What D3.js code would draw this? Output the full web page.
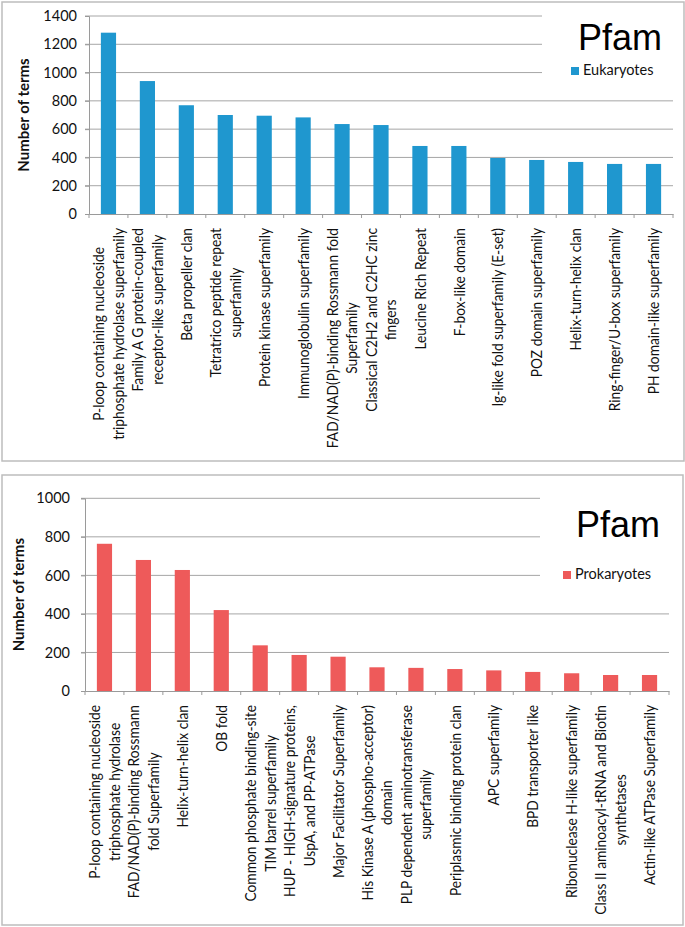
<!DOCTYPE html>
<html>
<head>
<meta charset="utf-8">
<script src="https://cdn.jsdelivr.net/npm/d3@7"></script>
<style>
  html, body { margin: 0; padding: 0; background: #fff; }
  svg { display: block; }
</style>
</head>
<body>
<svg id="chart" width="685" height="927"></svg>
<script>
// ---------- DATA ----------
const eukCategories = [
  "P-loop containing nucleoside\ntriphosphate hydrolase superfamily",
  "Family A G protein-coupled\nreceptor-like superfamily",
  "Beta propeller clan",
  "Tetratrico peptide repeat\nsuperfamily",
  "Protein kinase superfamily",
  "Immunoglobulin superfamily",
  "FAD/NAD(P)-binding Rossmann fold\nSuperfamily",
  "Classical C2H2 and C2HC zinc\nfingers",
  "Leucine Rich Repeat",
  "F-box-like domain",
  "Ig-like fold superfamily (E-set)",
  "POZ domain superfamily",
  "Helix-turn-helix clan",
  "Ring-finger/U-box superfamily",
  "PH domain-like superfamily"
];
const eukValues = [1282, 940, 769, 700, 695, 683, 636, 629, 481, 481, 396, 382, 368, 354, 354];
const eukTicks = [0, 200, 400, 600, 800, 1000, 1200, 1400];

const proCategories = [
  "P-loop containing nucleoside\ntriphosphate hydrolase",
  "FAD/NAD(P)-binding Rossmann\nfold Superfamily",
  "Helix-turn-helix clan",
  "OB fold",
  "Common phosphate binding-site\nTIM barrel superfamily",
  "HUP - HIGH-signature proteins,\nUspA, and PP-ATPase",
  "Major Facilitator Superfamily",
  "His Kinase A (phospho-acceptor)\ndomain",
  "PLP dependent aminotransferase\nsuperfamily",
  "Periplasmic binding protein clan",
  "APC superfamily",
  "BPD transporter like",
  "Ribonuclease H-like superfamily",
  "Class II aminoacyl-tRNA and Biotin\nsynthetases",
  "Actin-like ATPase Superfamily"
];
const proValues = [764, 680, 628, 420, 237, 187, 178, 123, 120, 114, 107, 99, 92, 83, 83];
const proTicks = [0, 200, 400, 600, 800, 1000];

const titleText = "Pfam";
const yAxisTitle = "Number of terms";
const seriesNames = ["Eukaryotes", "Prokaryotes"];

// ---------- DRAW ----------
const svg = d3.select("#chart");
const FONT = "Lato, 'Open Sans', sans-serif";

function panel(cfg) {
  const g = svg.append("g");
  g.append("rect")
    .attr("x", cfg.box[0]).attr("y", cfg.box[1])
    .attr("width", cfg.box[2] - cfg.box[0]).attr("height", cfg.box[3] - cfg.box[1])
    .attr("fill", "#fff").attr("stroke", "#bdbdbd").attr("stroke-width", 1.5);

  const x = d3.scaleBand().domain(cfg.cats.map((d, i) => i))
    .range([cfg.x0, cfg.x1]).paddingInner(0.61).paddingOuter(0.305);
  const xb = d3.scaleBand().domain(cfg.cats.map((d, i) => i)).range([cfg.x0, cfg.x1]);
  const y = d3.scaleLinear().domain([0, cfg.ymax]).range([cfg.yb, cfg.yt]);

  g.append("g").selectAll("line").data(cfg.ticks.filter(t => t > 0)).join("line")
    .attr("x1", cfg.x0 - 4).attr("x2", cfg.x1)
    .attr("y1", d => y(d)).attr("y2", d => y(d))
    .attr("stroke", "#a6a6a6").attr("stroke-width", 1);

  const ya = g.append("g").attr("transform", `translate(${cfg.x0},0)`)
    .call(d3.axisLeft(y).tickValues(cfg.ticks).tickFormat(d3.format("d")).tickSize(4).tickPadding(cfg.tickPad));
  ya.select(".domain").attr("stroke", "#9a9a9a");
  ya.selectAll(".tick line").attr("stroke", "#9a9a9a");
  ya.selectAll(".tick text").attr("font-family", FONT).attr("font-size", 14.5).attr("fill", "#111");

  g.append("g").selectAll("rect").data(cfg.vals).join("rect")
    .attr("x", (d, i) => x(i)).attr("width", x.bandwidth())
    .attr("y", d => y(d)).attr("height", d => y(0) - y(d))
    .attr("fill", cfg.color);

  const xa = g.append("g").attr("transform", `translate(0,${cfg.yb})`)
    .call(d3.axisBottom(xb).tickSize(0).tickFormat(""));
  xa.select(".domain").attr("stroke", "#9a9a9a");
  xa.selectAll(".tick").remove();
  xa.append("g").selectAll("line").data(d3.range(cfg.cats.length + 1)).join("line")
    .attr("x1", i => cfg.x0 + i * xb.step()).attr("x2", i => cfg.x0 + i * xb.step())
    .attr("y1", 0).attr("y2", 4).attr("stroke", "#9a9a9a");

  cfg.cats.forEach((lab, i) => {
    const lines = lab.split("\n");
    const cx = xb(i) + xb.bandwidth() / 2;
    const lg = g.append("g")
      .attr("transform", `translate(${cx},${cfg.yb + 14}) rotate(-90) scale(${cfg.lblSx},1)`);
    const texts = lines.map((ln, j) => lg.append("text")
      .attr("font-family", FONT).attr("font-size", cfg.lblSize).attr("fill", "#111")
      .attr("text-anchor", "middle").attr("dominant-baseline", "central")
      .attr("y", (j - (lines.length - 1) / 2) * cfg.lineGap)
      .text(ln));
    const maxW = d3.max(texts, t => t.node().getComputedTextLength());
    texts.forEach(t => t.attr("x", -maxW / 2));
  });

  g.append("text")
    .attr("transform", `translate(${cfg.ytX},${(cfg.yt + cfg.yb) / 2}) rotate(-90)`)
    .attr("text-anchor", "middle").attr("dominant-baseline", "central")
    .attr("font-family", FONT).attr("font-weight", "bold").attr("font-size", 15)
    .attr("fill", "#111").text(yAxisTitle);

  g.append("rect")
    .attr("x", cfg.leg[0]).attr("y", cfg.leg[1])
    .attr("width", cfg.leg[2] - cfg.leg[0]).attr("height", cfg.leg[3] - cfg.leg[1])
    .attr("fill", "#fff");
  g.append("text")
    .attr("x", cfg.titleX).attr("y", cfg.titleY)
    .attr("text-anchor", "end")
    .attr("font-family", "'Liberation Sans', Arial, sans-serif").attr("font-size", 36)
    .attr("fill", "#000").text(titleText);
  g.append("rect")
    .attr("x", cfg.swX).attr("y", cfg.swY).attr("width", 8).attr("height", 8)
    .attr("fill", cfg.color);
  g.append("text")
    .attr("x", cfg.swX + 12).attr("y", cfg.swY + 8)
    .attr("font-family", FONT).attr("font-size", 14.5).attr("fill", "#111")
    .text(cfg.series);
}

panel({
  box: [2, 2, 684, 461],
  cats: eukCategories, vals: eukValues, ticks: eukTicks, ymax: 1400,
  x0: 89, x1: 673, yt: 16, yb: 214, tickPad: 8,
  color: "#1f97cf",
  lblSize: 14.5, lblSx: 0.95, lineGap: 19.5,
  ytX: 23,
  leg: [542, 8, 673, 86],
  titleX: 662, titleY: 50,
  swX: 571, swY: 67, series: seriesNames[0]
});

panel({
  box: [2, 475, 683, 925],
  cats: proCategories, vals: proValues, ticks: proTicks, ymax: 1000,
  x0: 85, x1: 669, yt: 498.3, yb: 691, tickPad: 11,
  color: "#ee5a5a",
  lblSize: 14.5, lblSx: 0.95, lineGap: 19.5,
  ytX: 18,
  leg: [540, 492, 669, 596],
  titleX: 660, titleY: 537,
  swX: 563, swY: 571, series: seriesNames[1]
});
</script>
</body>
</html>
